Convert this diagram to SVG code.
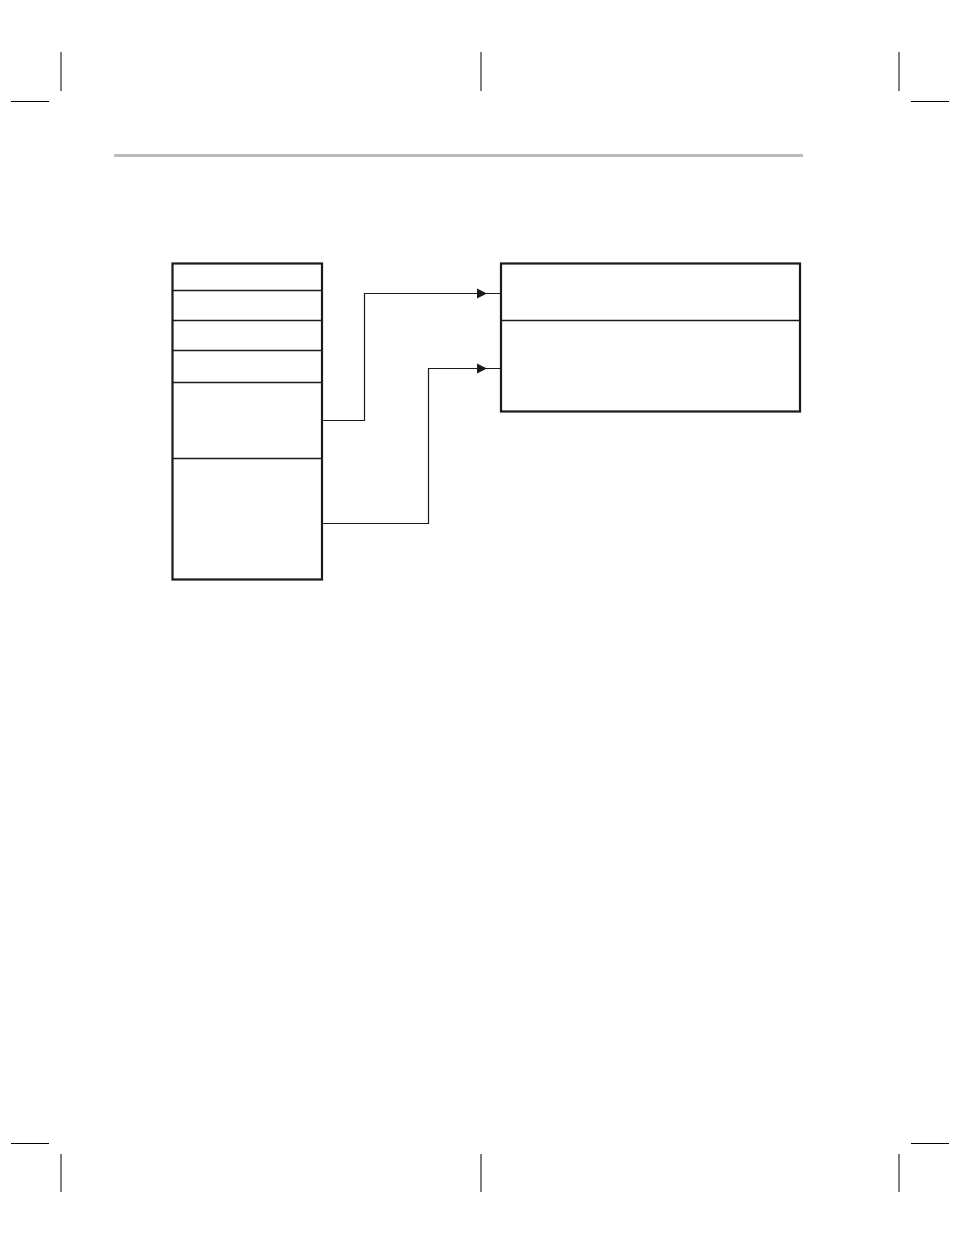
<svg xmlns="http://www.w3.org/2000/svg" width="954" height="1235" viewBox="0 0 954 1235">
<style>
.crop{stroke:#000;stroke-width:1;fill:none}
.box{fill:#fff;stroke:#1a1a1a;stroke-width:2.2}
.div{stroke:#1a1a1a;stroke-width:1.3;fill:none}
.conn{stroke:#1a1a1a;stroke-width:1.2;fill:none}
</style>
<defs>
<marker id="arr" markerWidth="10" markerHeight="10" refX="9" refY="5" orient="auto" markerUnits="userSpaceOnUse">
<path d="M0,0 L9,5 L0,10 Z" fill="#1a1a1a"/>
</marker>
</defs>
<rect width="954" height="1235" fill="#fff"/>
<g id="cropmarks">
<line class="crop" x1="61" y1="52" x2="61" y2="91"/>
<line class="crop" x1="481" y1="52" x2="481" y2="91"/>
<line class="crop" x1="899" y1="52" x2="899" y2="91"/>
<line class="crop" x1="11" y1="101.5" x2="49" y2="101.5"/>
<line class="crop" x1="911" y1="101.5" x2="949" y2="101.5"/>
<line class="crop" x1="61" y1="1154" x2="61" y2="1192"/>
<line class="crop" x1="481" y1="1154" x2="481" y2="1192"/>
<line class="crop" x1="899" y1="1154" x2="899" y2="1192"/>
<line class="crop" x1="11" y1="1143.5" x2="49" y2="1143.5"/>
<line class="crop" x1="911" y1="1143.5" x2="949" y2="1143.5"/>
</g>
<line id="header-rule" x1="114" y1="155.5" x2="803" y2="155.5" stroke="#bbbbbb" stroke-width="3"/>
<g id="left-stack">
<rect class="box" x="172.5" y="263.5" width="149.5" height="316"/>
<line class="div" x1="173" y1="290.5" x2="321" y2="290.5"/>
<line class="div" x1="173" y1="320.5" x2="321" y2="320.5"/>
<line class="div" x1="173" y1="350.5" x2="321" y2="350.5"/>
<line class="div" x1="173" y1="382.5" x2="321" y2="382.5"/>
<line class="div" x1="173" y1="458.5" x2="321" y2="458.5"/>
</g>
<g id="right-box">
<rect class="box" x="501" y="263.5" width="299" height="148"/>
<line class="div" x1="501" y1="320.5" x2="800" y2="320.5"/>
</g>
<g id="connectors">
<polyline class="conn" points="323,420.5 364.5,420.5 364.5,293.5 500,293.5"/>
<polyline class="conn" points="323,523.5 428.5,523.5 428.5,368.5 500,368.5"/>
<path d="M477,288.5 L487,293.5 L477,298.5 Z" fill="#1a1a1a"/>
<path d="M477,363.5 L487,368.5 L477,373.5 Z" fill="#1a1a1a"/>
</g>
</svg>
